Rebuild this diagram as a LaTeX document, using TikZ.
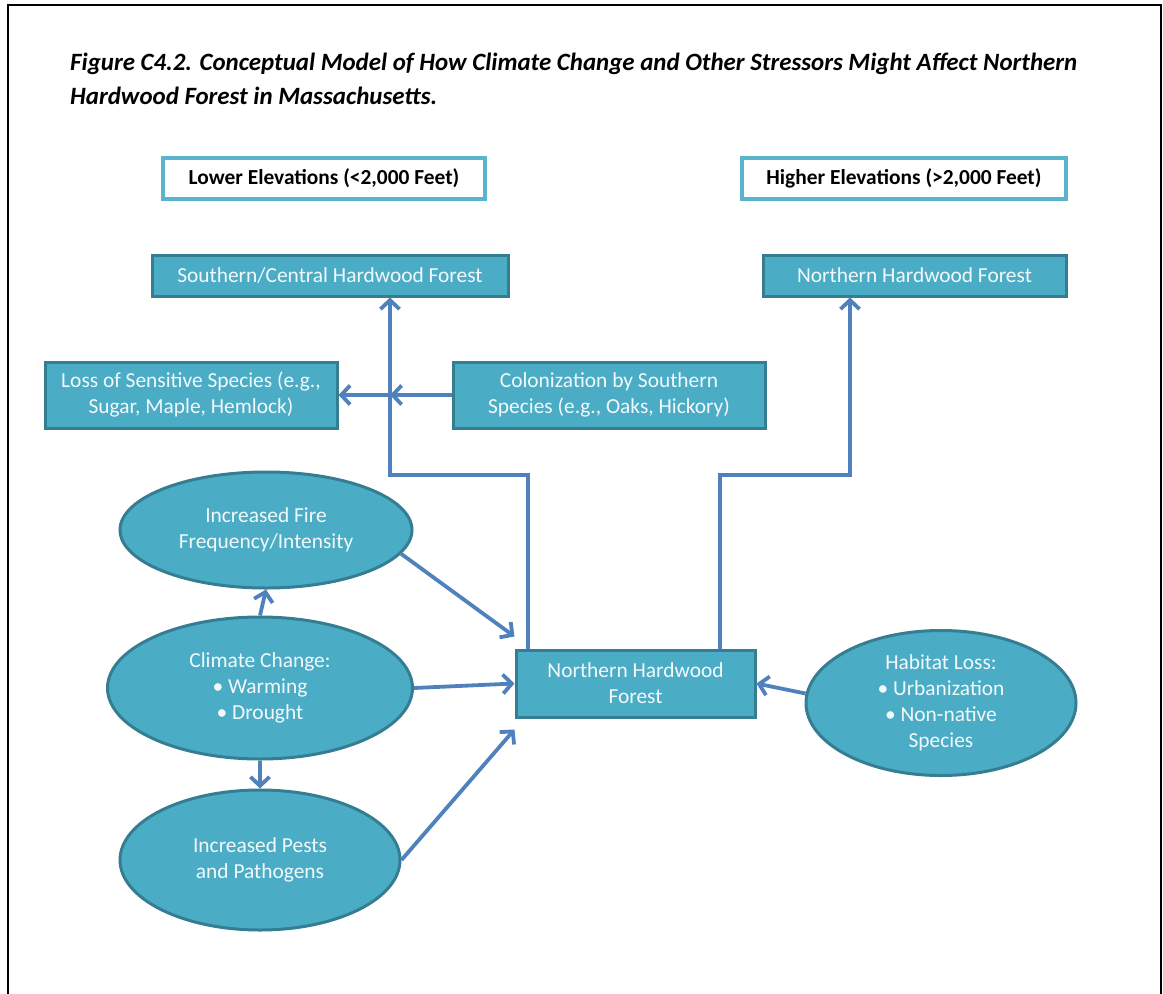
\documentclass[tikz,border=0pt]{standalone}
\usepackage{fontspec}
\setmainfont{Carlito}
\usetikzlibrary{arrows.meta,shapes.geometric,calc}
\definecolor{tealf}{HTML}{4BACC6}
\definecolor{teald}{HTML}{357E92}
\definecolor{hdrc}{HTML}{5BB4CC}
\definecolor{arrc}{HTML}{4F81BD}
\definecolor{txtw}{HTML}{F2F9FB}
\tikzset{
  hdrbox/.style={draw=hdrc, line width=3.5pt, fill=white, rectangle, inner sep=0pt,
    font=\bfseries\fontsize{21.4}{24}\selectfont, text=black},
  tbox/.style={draw=teald, line width=3pt, fill=tealf, rectangle, inner sep=0pt,
    font=\fontsize{21.4}{26}\selectfont, text=txtw, align=center},
  tell/.style={draw=teald, line width=3pt, fill=tealf, ellipse, inner sep=0pt,
    font=\fontsize{21.4}{26}\selectfont, text=txtw, align=center},
  arr/.style={draw=arrc, line width=3.8pt, -{Straight Barb[length=9pt,width=19pt,line width=3.8pt]}},
  titlef/.style={anchor=base west, inner sep=0pt, font=\bfseries\itshape\fontsize{24.9}{28}\selectfont}
}
\begin{document}
\begin{tikzpicture}[x=1pt,y=-1pt]
\useasboundingbox (0,0) rectangle (1163,994);
\draw[line width=2.5pt, black] (8,994) -- (8,5) -- (1161,5) -- (1161,994);
\node[titlef] (t1) at (70,70) {Figure C4.2. Conceptual Model of How Climate Change and Other Stressors Might Affect Northern};
\node[titlef] (t2) at (70,104) {Hardwood Forest in Massachusetts.};

\node[hdrbox, minimum width=322pt, minimum height=41pt] (lo) at (324,178.5) {Lower Elevations (<2,000 Feet)};
\node[hdrbox, minimum width=324pt, minimum height=41pt] (hi) at (904,178.5) {Higher Elevations (>2,000 Feet)};

\node[tbox, minimum width=356pt, minimum height=41pt] (sc) at (330,275.5) {Southern/Central Hardwood Forest};
\node[tbox, minimum width=303pt, minimum height=41pt] (nt) at (914.5,275.5) {Northern Hardwood Forest};

\node[tbox, minimum width=292pt, minimum height=66pt] (loss) at (191,395) {Loss of Sensitive Species (e.g.,\\Sugar, Maple, Hemlock)};
\node[tbox, minimum width=312pt, minimum height=66pt] (col) at (609,395) {Colonization by Southern\\Species (e.g., Oaks, Hickory)};

\node[tell, minimum width=292pt, minimum height=116pt] (fire) at (266,530) {Increased Fire\\Frequency/Intensity};
\node[tell, minimum width=305pt, minimum height=142pt] (clim) at (260,688) {Climate Change:\\• Warming\\• Drought};
\node[tell, minimum width=280pt, minimum height=140pt] (pest) at (260,860) {Increased Pests\\and Pathogens};
\node[tell, minimum width=270pt, minimum height=145pt] (hab) at (941,703) {Habitat Loss:\\• Urbanization\\• Non-native\\Species};

\node[tbox, minimum width=239pt, minimum height=67pt] (nhf) at (635.5,683.5) {Northern Hardwood\\Forest};

\coordinate (jl) at (390,475);
\coordinate (jr) at (850,475);
\coordinate (cross) at (390,395);

\draw[arr] ([xshift=-107.5pt]nhf.north) |- (jl) -- (jl |- sc.south);
\draw[arr] ([xshift=84.5pt]nhf.north) |- (jr) -- (jr |- nt.south);
\draw[arr] (col.west) -- (cross);
\draw[arr] (cross) -- (loss.east);
\draw[arr] (fire.-10) -- ([yshift=12pt]nhf.north west);
\draw[arr] (clim.east) -- (nhf.west);
\draw[arr] (pest.east) -- ([yshift=-11pt]nhf.south west);
\draw[arr] (clim.north) -- (fire.south);
\draw[arr] (clim.south) -- (pest.north);
\draw[arr] (hab.176) -- (nhf.east);
\end{tikzpicture}
\end{document}
